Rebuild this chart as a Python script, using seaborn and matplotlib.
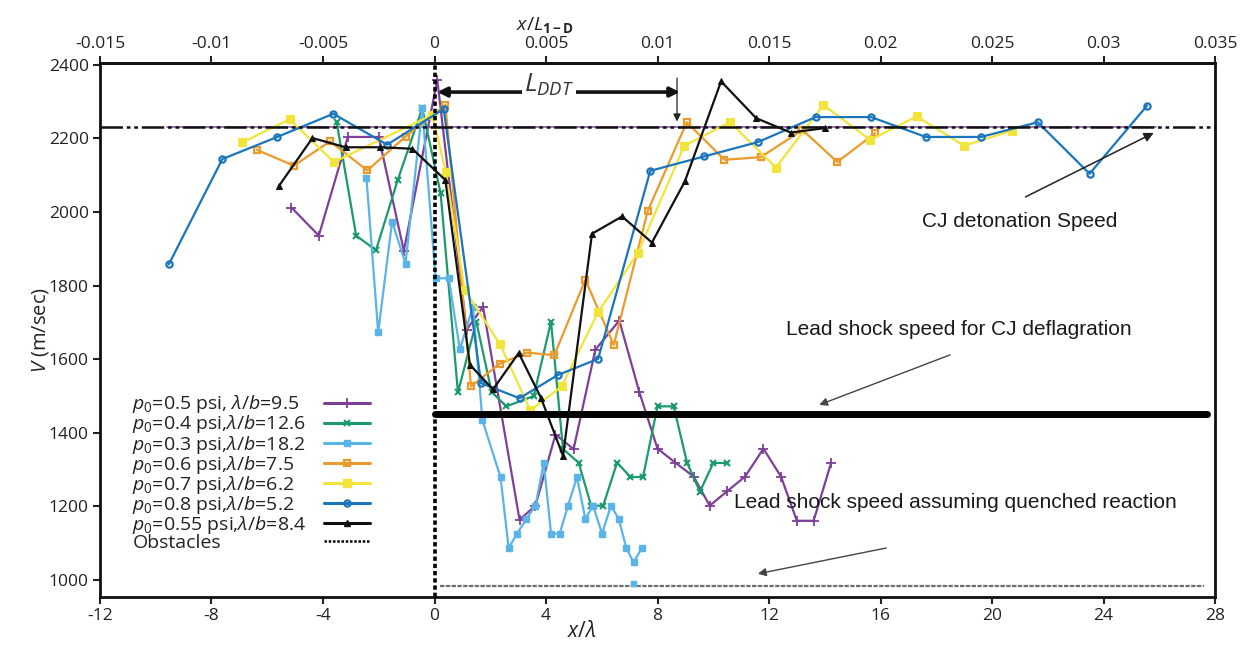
import matplotlib
matplotlib.use("Agg")
import matplotlib.pyplot as plt
import seaborn as sns
import numpy as np
import pandas as pd
from matplotlib.lines import Line2D

# ---------------- data ----------------
labels = [r'$p_0$=0.5 psi, $\lambda/b$=9.5',
          r'$p_0$=0.4 psi,$\lambda/b$=12.6',
          r'$p_0$=0.3 psi,$\lambda/b$=18.2',
          r'$p_0$=0.6 psi,$\lambda/b$=7.5',
          r'$p_0$=0.7 psi,$\lambda/b$=6.2',
          r'$p_0$=0.8 psi,$\lambda/b$=5.2',
          r'$p_0$=0.55 psi,$\lambda/b$=8.4']

x_p05 = [-5.13, -4.15, -3.11, -2.0, -1.1, 0.1, 1.15, 1.74, 3.05, 3.62, 4.34, 4.99, 5.77, 6.63,
         7.35, 8.0, 8.64, 9.3, 9.87, 10.51, 11.14, 11.8, 12.43, 13.0, 13.6, 14.23]
v_p05 = [2012, 1936, 2204, 2204, 1895, 2359, 1680, 1743, 1164, 1202, 1395, 1356, 1626, 1705,
         1510, 1357, 1319, 1281, 1202, 1242, 1281, 1357, 1281, 1161, 1161, 1319]

x_p04 = [-3.51, -2.81, -2.1, -1.32, -0.44, 0.22, 0.84, 1.5, 2.05, 2.58, 3.56, 4.18, 4.61, 5.17,
         5.62, 6.05, 6.55, 7.03, 7.48, 8.0, 8.58, 9.06, 9.52, 10.0, 10.51]
v_p04 = [2244, 1936, 1896, 2087, 2282, 2051, 1510, 1702, 1511, 1472, 1500, 1702, 1356, 1319,
         1202, 1202, 1319, 1280, 1280, 1472, 1472, 1319, 1240, 1318, 1318]

x_p03 = [-2.44, -2.02, -1.52, -1.04, -0.44, 0.04, 0.51, 0.91, 1.38, 1.72, 2.37, 2.66, 2.96, 3.30,
         3.62, 3.92, 4.18, 4.49, 4.79, 5.11, 5.41, 5.69, 6.01, 6.33, 6.61, 6.88, 7.14, 7.44]
v_p03 = [2092, 1673, 1974, 1860, 2282, 1820, 1820, 1627, 1743, 1434, 1279, 1087, 1126, 1166,
         1202, 1319, 1126, 1126, 1202, 1280, 1166, 1202, 1126, 1202, 1166, 1087, 1048, 1087]
x_p03_extra = [7.14]
v_p03_extra = [989]

x_p06 = [-6.38, -5.04, -3.75, -2.41, -1.04, 0.39, 1.31, 2.34, 3.32, 4.3, 5.41, 6.43, 7.65, 9.05,
         10.4, 11.7, 13.2, 14.45, 15.8]
v_p06 = [2169, 2126, 2192, 2113, 2205, 2291, 1526, 1588, 1618, 1611, 1816, 1639, 2003, 2244,
         2142, 2149, 2223, 2136, 2214]

x_p07 = [-6.89, -5.2, -3.61, -0.08, 0.4, 1.08, 2.34, 3.44, 4.56, 5.87, 7.29, 8.96, 10.6, 12.25,
         13.95, 15.63, 17.3, 19.0, 20.7]
v_p07 = [2189, 2252, 2136, 2264, 2110, 1789, 1642, 1461, 1526, 1728, 1888, 2180, 2244, 2121,
         2291, 2196, 2260, 2180, 2221]

x_p08 = [-9.53, -7.61, -5.64, -3.63, -1.70, 0.33, 1.67, 3.05, 4.42, 5.87, 7.74, 9.67, 11.6, 13.67,
         15.66, 17.63, 19.6, 21.64, 23.5, 25.56]
v_p08 = [1858, 2144, 2204, 2267, 2183, 2280, 1535, 1494, 1557, 1601, 2112, 2151, 2190, 2258,
         2258, 2204, 2204, 2244, 2104, 2289]

x_p055 = [-5.58, -4.38, -3.19, -1.96, -0.8, 0.39, 1.27, 2.1, 3.02, 3.82, 4.61, 5.65, 6.73, 7.8,
          8.98, 10.28, 11.54, 12.78, 14.0]
v_p055 = [2071, 2201, 2176, 2176, 2172, 2087, 1585, 1518, 1617, 1495, 1337, 1941, 1988, 1917,
          2083, 2355, 2255, 2216, 2228]

CJ_SPEED = 2230
CJ_PURPLE_X = [-9.6, 25.9]
DEFLAG_SPEED = 1450
DEFLAG_X = [0.0, 27.7]
QUENCH_SPEED = 985
QUENCH_X = [0.2, 27.6]
OBSTACLE_X = 0.0

LDDT_X = [0.1, 8.8]
LDDT_Y = 2326
LDDT_DOWN_X = 8.7
LDDT_DOWN_Y = [2364, 2246]

top_ticks = [-0.015, -0.01, -0.005, 0, 0.005, 0.01, 0.015, 0.02, 0.025, 0.03, 0.035]
top_ticklabels = ['-0.015', '-0.01', '-0.005', '0', '0.005', '0.01', '0.015', '0.02', '0.025', '0.03', '0.035']
bottom_ticks = [-12, -8, -4, 0, 4, 8, 12, 16, 20, 24, 28]
y_ticks = [1000, 1200, 1400, 1600, 1800, 2000, 2200, 2400]
SCALE_TOP = 0.00125

# ---------------- style ----------------
sns.set_style("ticks")
plt.rcParams['font.family'] = ['Open Sans', 'DejaVu Sans']
plt.rcParams['mathtext.fontset'] = 'custom'
plt.rcParams['mathtext.rm'] = 'Open Sans'
plt.rcParams['mathtext.it'] = 'Open Sans:italic'
plt.rcParams['mathtext.bf'] = 'Open Sans:bold'

fig = plt.figure(figsize=(12.53, 6.46), dpi=100)
ax = fig.add_axes([0.0798, 0.0759, 0.8899, 0.8266])

series = [
    (x_p05, v_p05, '#7e3f98', dict(marker='+', markersize=7, markeredgewidth=1.3)),
    (x_p04, v_p04, '#1b9a6c', dict(marker='x', markersize=5, markeredgewidth=1.5)),
    (x_p03, v_p03, '#5ab4e8', dict(marker='s', markersize=4, markeredgewidth=1.0)),
    (x_p06, v_p06, '#eb9a2c', dict(marker='s', markersize=5, markerfacecolor='none', markeredgewidth=1.6)),
    (x_p07, v_p07, '#f2e43a', dict(marker='s', markersize=5.5)),
    (x_p08, v_p08, '#1a75bc', dict(marker='o', markersize=4.5, markerfacecolor='none', markeredgewidth=1.6)),
    (x_p055, v_p055, '#111111', dict(marker='^', markersize=4.5)),
]

# reference lines (drawn first, underneath)
ax.plot(CJ_PURPLE_X, [CJ_SPEED, CJ_SPEED], color='#8e5aa8', lw=1.2, zorder=1)
ax.axhline(CJ_SPEED, color='#111111', lw=1.8, ls=(0, (9, 1.5, 1.5, 1.5, 1.5, 1.5)), zorder=3)
ax.plot(DEFLAG_X, [DEFLAG_SPEED, DEFLAG_SPEED], color='black', lw=5, solid_capstyle='round', zorder=3)
ax.plot(QUENCH_X, [QUENCH_SPEED, QUENCH_SPEED], color='#707070', lw=1.6, ls=(0, (2, 0.6)), zorder=3)

handles = []
for (xs, ys, col, mk), lab in zip(series, labels):
    df = pd.DataFrame({'x': xs, 'v': ys})
    sns.lineplot(data=df, x='x', y='v', ax=ax, color=col, lw=1.6, sort=False,
                 estimator=None, legend=False, zorder=2, markeredgecolor=col, **mk)
    handles.append(Line2D([], [], color=col, lw=2.2, markeredgecolor=col, **mk))

sns.scatterplot(x=x_p03_extra, y=v_p03_extra, ax=ax, color='#5ab4e8', marker='s', s=14,
                edgecolor='#5ab4e8', legend=False, zorder=4)

ax.axvline(OBSTACLE_X, color='black', lw=2.6, ls=(0, (1.2, 0.8)), zorder=5)
handles.append(Line2D([], [], color='black', lw=1.8, ls=(0, (1, 0.7))))

# L_DDT arrows
ax.annotate('', xy=(LDDT_X[0], LDDT_Y), xytext=(LDDT_X[1], LDDT_Y),
            arrowprops=dict(arrowstyle='<|-|>', color='#111111', lw=2.6, mutation_scale=14,
                            shrinkA=0, shrinkB=0), zorder=6)
ax.text(4.1, 2345, r'$L_{DDT}$', fontsize=19, ha='center', va='center', color='#333333',
        bbox=dict(facecolor='white', edgecolor='none', pad=1.5), zorder=7)
ax.annotate('', xy=(LDDT_DOWN_X, LDDT_DOWN_Y[1]), xytext=(LDDT_DOWN_X, LDDT_DOWN_Y[0]),
            arrowprops=dict(arrowstyle='-|>', color='#222222', lw=0.9, mutation_scale=11,
                            shrinkA=0, shrinkB=0))

# annotations
afont = dict(family=['Liberation Sans', 'DejaVu Sans'], fontsize=15, color='#1a1a1a')
ax.text(21.0, 1973, 'CJ detonation Speed', ha='center', va='center', **afont)
ax.annotate('', xy=(25.8, 2215), xytext=(21.2, 2041),
            arrowprops=dict(arrowstyle='-|>', color='#222222', lw=1.1, mutation_scale=14, shrinkA=0, shrinkB=0))
ax.text(18.8, 1680, 'Lead shock speed for CJ deflagration', ha='center', va='center', **afont)
ax.annotate('', xy=(13.8, 1476), xytext=(18.5, 1612),
            arrowprops=dict(arrowstyle='-|>', color='#444444', lw=1.0, mutation_scale=12, shrinkA=0, shrinkB=0))
ax.text(18.7, 1210, 'Lead shock speed assuming quenched reaction', ha='center', va='center', **afont)
ax.annotate('', xy=(11.6, 1017), xytext=(16.2, 1087),
            arrowprops=dict(arrowstyle='-|>', color='#444444', lw=1.0, mutation_scale=12, shrinkA=0, shrinkB=0))

# axes
ax.set_xlim(-12, 28)
ax.set_ylim(954, 2405)
ax.set_xticks(bottom_ticks)
ax.set_xticklabels([str(t) for t in bottom_ticks])
ax.set_yticks(y_ticks)
ax.tick_params(axis='both', direction='out', length=5, width=1.5, labelsize=12.5, colors='#222222', pad=3)
for sp in ax.spines.values():
    sp.set_visible(True)
    sp.set_linewidth(2)
    sp.set_color('#111111')

ax.set_xlabel(r'$x/\lambda$', fontsize=15, color='#222222')
ax.xaxis.set_label_coords(0.432, -0.045)
ax.set_ylabel(r'$V$ (m/sec)', fontsize=14.5, color='#222222')
ax.yaxis.set_label_coords(-0.044, 0.5)

secax = ax.secondary_xaxis('top', functions=(lambda x: x * SCALE_TOP, lambda x: x / SCALE_TOP))
secax.set_xticks(top_ticks)
secax.set_xticklabels(top_ticklabels)
secax.tick_params(direction='out', length=5, width=1.5, labelsize=12.5, colors='#222222', pad=3)
secax.spines['top'].set_linewidth(2)
secax.set_xlabel(r'$x/L_{\mathbf{1-D}}$', fontsize=14, color='#222222', labelpad=4)
secax.xaxis.label.set_x(0.399)

leg = ax.legend(handles, labels + ['Obstacles'], loc='lower left', bbox_to_anchor=(0.022, 0.07),
                frameon=False, markerfirst=False, fontsize=14, labelspacing=-0.1, handlelength=2.4,
                handletextpad=1.0, borderaxespad=0)
for t in leg.get_texts():
    t.set_color('#222222')
# left-align the label texts while keeping handles in a right-hand column
for col in leg._legend_handle_box.get_children():
    col.align = 'left'
    for row in col.get_children():
        row.mode = 'expand'
        row.width = 238

fig.savefig('out.png', dpi=100)
